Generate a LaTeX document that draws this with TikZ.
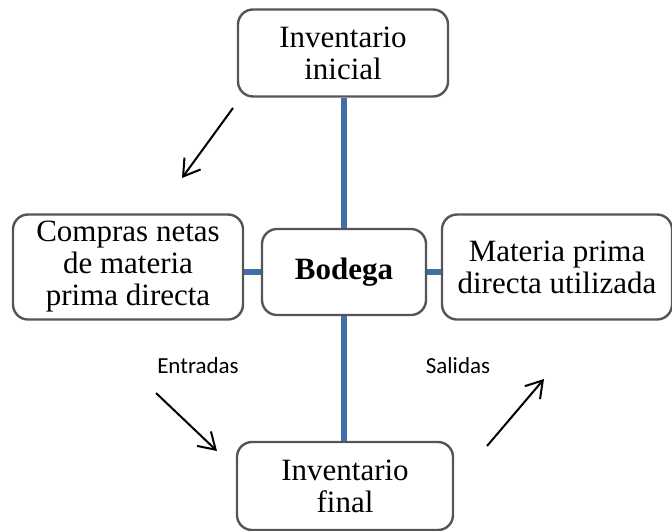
\documentclass[tikz,border=0pt]{standalone}
\usepackage{fontspec}
\setmainfont{Liberation Serif}
\newfontfamily\tagfont{Carlito}
\usetikzlibrary{positioning,arrows.meta}
\definecolor{linkblue}{RGB}{66,110,168}
\definecolor{boxgray}{RGB}{85,85,85}

\begin{document}
\begin{tikzpicture}[x=0.5pt,y=-0.5pt,
	box/.style={draw=boxgray,line width=1.2pt,rounded corners=7.5pt,align=center,inner sep=0pt,font=\fontsize{15.5}{16}\selectfont},
	link/.style={draw=linkblue,line width=3.3pt},
	flow/.style={line width=1pt,-{Straight Barb[length=8pt,width=10pt]}},
	tag/.style={font=\tagfont\fontsize{11.5}{13}\selectfont}]
			\useasboundingbox (0,0) rectangle (672,530);

			%boxes
			\node [box,minimum width=105pt,minimum height=43.5pt] (ini) at (343,53) {Inventario\\inicial};
			\node [box,minimum width=115pt,minimum height=52.5pt] (cmp) at (128,267) {Compras netas\\de materia\\prima directa};
			\node [box,minimum width=82pt,minimum height=43pt] (bod) at (344,272) {\bfseries Bodega};
			\node [box,minimum width=115pt,minimum height=52.5pt] (mpd) at (557,267) {Materia prima\\directa utilizada};
			\node [box,minimum width=108pt,minimum height=44pt] (fin) at (345,486) {Inventario\\final};

			%links
			\draw[link] (bod.north) -- (bod.north |- ini.south);
			\draw[link] (bod.south) -- (bod.south |- fin.north);
			\draw[link] (cmp.east |- bod.west) -- (bod.west);
			\draw[link] (bod.east) -- (mpd.west |- bod.east);

			%labels
			\node [tag] (ent) at (198,366) {Entradas};
			\node [tag] (sal) at (458,366) {Salidas};

			%arrows
			\coordinate (p1) at (233,108);
			\coordinate (q1) at (182,178);
			\coordinate (p2) at (156,393);
			\coordinate (q2) at (217,451);
			\coordinate (p3) at (487,446);
			\coordinate (q3) at (544,379);
			\draw[flow] (p1) -- (q1);
			\draw[flow] (p2) -- (q2);
			\draw[flow] (p3) -- (q3);
		\end{tikzpicture}
\end{document}
